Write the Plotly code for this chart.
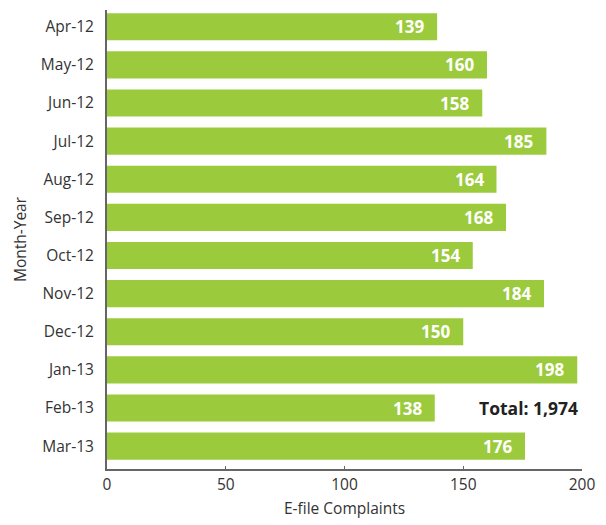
import plotly.graph_objects as go

months = ["Apr-12", "May-12", "Jun-12", "Jul-12", "Aug-12", "Sep-12",
          "Oct-12", "Nov-12", "Dec-12", "Jan-13", "Feb-13", "Mar-13"]
complaints = [139, 160, 158, 185, 164, 168, 154, 184, 150, 198, 138, 176]
x_ticks = [0, 50, 100, 150, 200]
total_label = "Total: 1,974"

FONT = "Open Sans"
bar_color = "#9BCB3C"

fig = go.Figure(go.Bar(
    y=months, x=complaints, orientation="h",
    marker=dict(color=bar_color, line=dict(width=0)),
    hoverinfo="x+y",
))

for m, v in zip(months, complaints):
    fig.add_annotation(x=v, y=m, text=f"<b>{v}</b>", showarrow=False,
                       xanchor="right", yanchor="middle", xshift=-11,
                       font=dict(family=FONT, size=17, color="white"))

fig.add_annotation(x=155.8, y="Feb-13", text=f"<b>{total_label}</b>", showarrow=False,
                   xanchor="left", yanchor="middle",
                   font=dict(family=FONT, size=17.5, color="#222222"))

fig.update_layout(
    width=606, height=525,
    margin=dict(l=107, r=24, t=10, b=53),
    plot_bgcolor="white", paper_bgcolor="white",
    bargap=0.29,
    showlegend=False,
    font=dict(family=FONT, size=15.5, color="#333333"),
    xaxis=dict(range=[0, 200], tickvals=x_ticks, showgrid=False, zeroline=False,
               showline=True, linecolor="#666666", linewidth=2,
               ticks="inside", ticklen=3, tickcolor="#666666",
               tickfont=dict(family=FONT, size=15.5, color="#333333"),
               title=dict(text="E-file Complaints", standoff=10,
                          font=dict(family=FONT, size=15.5, color="#333333"))),
    yaxis=dict(categoryorder="array", categoryarray=months,
               range=[11.6, -0.44], showgrid=False, zeroline=False,
               showline=True, linecolor="#666666", linewidth=2, ticks="",
               ticklabelstandoff=8,
               tickfont=dict(family=FONT, size=15.5, color="#333333"),
               title=dict(text="Month-Year", standoff=10,
                          font=dict(family=FONT, size=15.5, color="#333333"))),
)

fig.write_html("out.html")
